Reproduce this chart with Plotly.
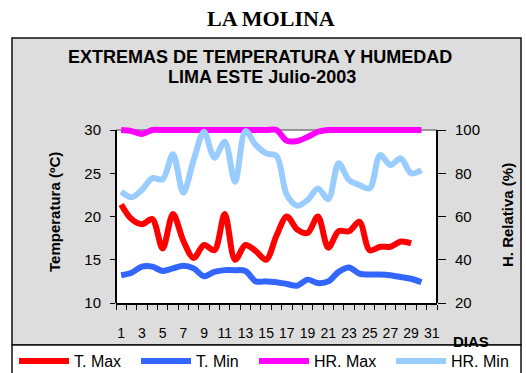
import plotly.graph_objects as go

# Daily series, July 2003
days = list(range(1, 32))
t_max = [21.4, 19.7, 19.1, 19.7, 16.3, 20.3, 17.2, 15.2, 16.7, 16.1,
         20.3, 15.0, 16.7, 16.0, 15.0, 17.8, 20.0, 18.5, 18.1, 20.0,
         16.4, 18.3, 18.3, 19.4, 16.1, 16.5, 16.5, 17.1, 16.9]
t_min = [13.2, 13.5, 14.2, 14.2, 13.7, 14.0, 14.3, 14.0, 13.1, 13.6,
         13.8, 13.8, 13.7, 12.5, 12.5, 12.4, 12.2, 12.0, 12.7, 12.3,
         12.5, 13.6, 14.1, 13.4, 13.3, 13.3, 13.2, 13.0, 12.8, 12.4]
hr_max = [100, 99.5, 98.2, 100, 100, 100, 100, 100, 100, 100,
          100, 100, 100, 100, 100, 100, 95.0, 94.9, 96.8, 99.2,
          100, 100, 100, 100, 100, 100, 100, 100, 100, 100]
hr_min = [71.5, 68.9, 72.3, 77.7, 77.2, 88.8, 71.0, 86.1, 99.2, 87.2,
          94.6, 76.1, 99.5, 93.1, 89.2, 88.0, 70.0, 65.0, 67.6, 73.0,
          68.0, 84.6, 76.9, 74.6, 73.0, 88.4, 83.8, 86.9, 80.0, 81.5]

x_ticks = list(range(1, 32, 2))
x_ticktext = [str(d) for d in x_ticks]
t_ticks = [10, 15, 20, 25, 30]
hr_ticks = [20, 40, 60, 80, 100]

names = ["T. Max", "T. Min", "HR. Max", "HR. Min"]
colors = ["#ff0000", "#3366ff", "#ff00ff", "#99ccff"]

W, H = 526, 373
L, R, T, B = 116, 437, 124, 303     # plot area in pixels
AX_TOP = 130                         # top of the value scales
PX_PER_C = (B - AX_TOP) / 20.0
PX_PER_HR = (B - AX_TOP) / 80.0

SANS = "Liberation Sans, Arial, sans-serif"
SERIF = "Liberation Serif, Times New Roman, serif"


def px(x):
    return (x - L) / (R - L)


def py(y):
    return (B - y) / (B - T)


fig = go.Figure()
series = [(t_max, "y"), (t_min, "y"), (hr_max, "y2"), (hr_min, "y2")]
for i, ((vals, yax), name, col) in enumerate(zip(series, names, colors)):
    fig.add_trace(go.Scatter(
        x=days[:len(vals)], y=vals, name=name, yaxis=yax,
        mode="lines", line=dict(color=col, width=6, shape="spline", smoothing=0.9),
        legend="legend" if i == 0 else f"legend{i + 1}",
        hoverinfo="skip",
    ))

shapes = [
    # grey frame of the chart
    dict(type="rect", xref="paper", yref="paper", layer="below",
         x0=px(12), x1=px(521), y0=py(345), y1=py(38),
         fillcolor="#dddddd", line=dict(color="#111111", width=1.5)),
    # legend strip
    dict(type="rect", xref="paper", yref="paper", layer="below",
         x0=px(12), x1=px(521), y0=py(380), y1=py(345),
         fillcolor="#ffffff", line=dict(color="#111111", width=1.5)),
    # plot area
    dict(type="rect", xref="paper", yref="paper", layer="below",
         x0=0, x1=1, y0=0, y1=py(AX_TOP),
         fillcolor="#ffffff", line=dict(width=0)),
    dict(type="line", xref="paper", yref="paper", layer="below",
         x0=0, x1=1, y0=py(AX_TOP), y1=py(AX_TOP),
         line=dict(color="#7a7a7a", width=1.5)),
    # value axes
    dict(type="line", xref="paper", yref="paper", layer="above",
         x0=0, x1=0, y0=0, y1=py(AX_TOP), line=dict(color="#000000", width=2)),
    dict(type="line", xref="paper", yref="paper", layer="above",
         x0=1, x1=1, y0=0, y1=py(AX_TOP), line=dict(color="#000000", width=2)),
]

annotations = [
    dict(text="<b>LA MOLINA</b>", x=px(271), y=py(19),
         font=dict(family=SERIF, size=22, color="#000000")),
    dict(text="<b>EXTREMAS DE TEMPERATURA Y HUMEDAD</b>", x=px(260), y=py(57),
         font=dict(family=SANS, size=18, color="#000000")),
    dict(text="<b>LIMA ESTE Julio-2003</b>", x=px(262), y=py(77),
         font=dict(family=SANS, size=18, color="#000000")),
    dict(text="<b>Temperatura (ºC)</b>", x=px(54), y=py(212), textangle=-90,
         font=dict(family=SANS, size=15, color="#000000")),
    dict(text="<b>H. Relativa (%)</b>", x=px(507), y=py(215), textangle=-90,
         font=dict(family=SANS, size=15, color="#000000")),
    dict(text="<b>DIAS</b>", x=px(471), y=py(341),
         font=dict(family=SANS, size=15, color="#000000")),
]
for a in annotations:
    a.update(xref="paper", yref="paper", xanchor="center", yanchor="middle",
             showarrow=False)

tick_font = dict(family=SANS, size=15, color="#000000")
y_top_c = 30 + (AX_TOP - T) / PX_PER_C
y_top_hr = 100 + (AX_TOP - T) / PX_PER_HR
minor_x = [d - 0.5 for d in range(1, 33)]

legend_x = [23, 145, 263, 400]
legends = {}
for i, lx in enumerate(legend_x):
    key = "legend" if i == 0 else f"legend{i + 1}"
    legends[key] = dict(
        x=px(lx - 9), y=py(361), xanchor="left", yanchor="middle",
        orientation="h", bgcolor="rgba(0,0,0,0)", borderwidth=0,
        font=dict(family=SANS, size=16, color="#000000"), itemwidth=50,
    )

tick_style = dict(tickwidth=1.2, tickcolor="#000000", showgrid=False, zeroline=False)

fig.update_layout(
    width=W, height=H,
    margin=dict(l=L, r=W - R, t=T, b=H - B, pad=0, autoexpand=False),
    paper_bgcolor="#ffffff", plot_bgcolor="rgba(0,0,0,0)",
    showlegend=True,
    xaxis=dict(
        range=[0.5, 31.5], tickvals=x_ticks, ticktext=x_ticktext, ticks="",
        tickfont=dict(family=SANS, size=14, color="#000000"),
        showgrid=False, zeroline=False, showline=True, linecolor="#000000",
        linewidth=2, ticklabelstandoff=16,
        minor=dict(tickvals=minor_x, ticks="outside", ticklen=5,
                   tickwidth=1.2, tickcolor="#000000", showgrid=False),
    ),
    # inner halves of the crossing category ticks
    xaxis2=dict(
        range=[0.5, 31.5], overlaying="x", side="bottom", showticklabels=False,
        tickvals=minor_x, ticks="inside", ticklen=4, showline=False, **tick_style,
    ),
    yaxis=dict(
        range=[10, y_top_c], tickvals=t_ticks, ticks="outside", ticklen=5,
        tickfont=tick_font, showline=False, ticklabelstandoff=6, **tick_style,
    ),
    yaxis2=dict(
        range=[20, y_top_hr], tickvals=hr_ticks, ticks="outside", ticklen=8,
        tickfont=tick_font, overlaying="y", side="right",
        showline=False, ticklabelstandoff=6, **tick_style,
    ),
    yaxis3=dict(
        range=[10, y_top_c], tickvals=t_ticks, ticks="inside", ticklen=4,
        overlaying="y", side="left", showticklabels=False, showline=False,
        **tick_style,
    ),
    yaxis4=dict(
        range=[20, y_top_hr], tickvals=hr_ticks, ticks="inside", ticklen=4,
        overlaying="y", side="right", showticklabels=False, showline=False,
        **tick_style,
    ),
    shapes=shapes,
    annotations=annotations,
    **legends,
)

fig.write_html("out.html")
